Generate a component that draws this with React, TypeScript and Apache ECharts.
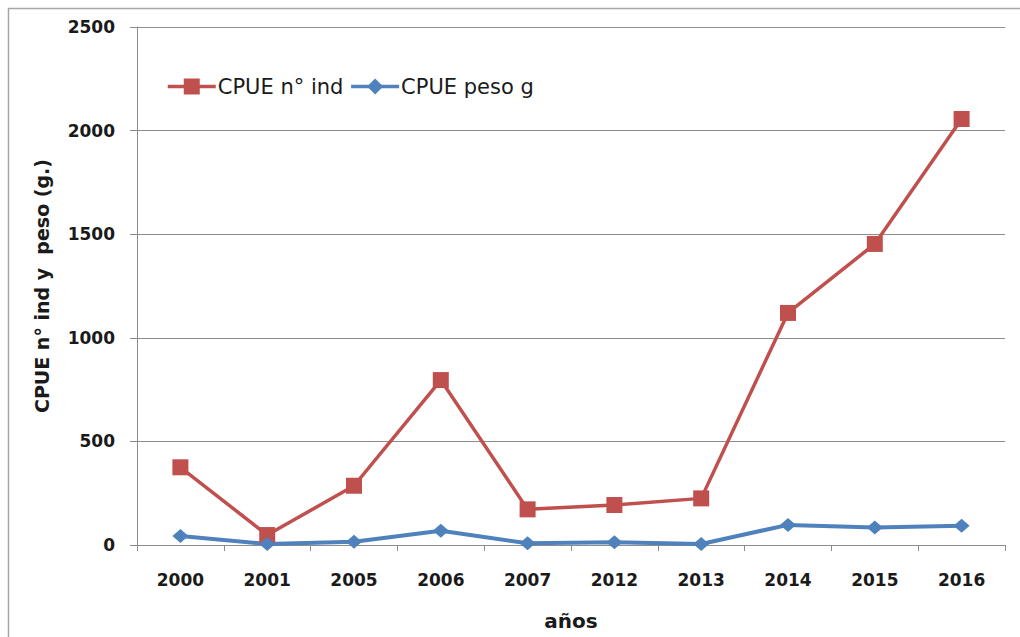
import React, { useEffect, useRef } from "react";
import * as echarts from "echarts";

const years = ["2000", "2001", "2005", "2006", "2007", "2012", "2013", "2014", "2015", "2016"];
const cpueInd = [375, 48, 286, 796, 172, 193, 225, 1120, 1453, 2056];
const cpuePeso = [43, 5, 16, 69, 8, 13, 5, 97, 85, 93];
const yTicks = { min: 0, max: 2500, interval: 500 };

const FONT = "DejaVu Sans";

export default function App() {
  const ref = useRef<HTMLDivElement>(null);
  useEffect(() => {
    if (!ref.current) return;
    const chart = echarts.init(ref.current, null, { renderer: "svg" });
    chart.setOption({
      animation: false,
      backgroundColor: "#ffffff",
      textStyle: { fontFamily: FONT },
      graphic: [
        {
          type: "rect",
          shape: { x: 8.5, y: 8.5, width: 1030, height: 660 },
          style: { fill: "none", stroke: "#a6a6a6", lineWidth: 1.5 },
          silent: true,
          z: -1,
        },
      ],
      legend: {
        left: 161,
        top: 71,
        itemWidth: 48,
        itemHeight: 20,
        itemGap: 6,
        lineStyle: { width: 3.5 },
        textStyle: { fontFamily: FONT, fontSize: 21, color: "#1a1a1a", padding: [0, 0, 0, -3] },
        data: ["CPUE n° ind", "CPUE peso g"],
      },
      grid: { left: 137, right: 15, top: 27, bottom: 92, containLabel: false },
      xAxis: {
        type: "category",
        data: years,
        boundaryGap: true,
        name: "años",
        nameLocation: "middle",
        nameGap: 66,
        nameTextStyle: { fontFamily: FONT, fontSize: 20, fontWeight: "bold", color: "#1a1a1a" },
        axisLine: { lineStyle: { color: "#8c8c8c", width: 1 } },
        axisTick: { show: true, length: 6, lineStyle: { color: "#8c8c8c" } },
        axisLabel: { fontFamily: FONT, fontSize: 17, fontWeight: "bold", color: "#1a1a1a", margin: 26 },
        splitLine: { show: false },
      },
      yAxis: {
        type: "value",
        min: yTicks.min,
        max: yTicks.max,
        interval: yTicks.interval,
        name: "CPUE n° ind y  peso (g.)",
        nameLocation: "middle",
        nameGap: 86,
        nameTextStyle: { fontFamily: FONT, fontSize: 19, fontWeight: "bold", color: "#1a1a1a" },
        axisLine: { show: true, lineStyle: { color: "#8c8c8c", width: 1 } },
        axisTick: { show: true, length: 7, lineStyle: { color: "#8c8c8c" } },
        axisLabel: {
          fontFamily: FONT,
          fontSize: 17,
          fontWeight: "bold",
          color: "#1a1a1a",
          margin: 22,
          formatter: (v: number) => String(v),
        },
        splitLine: { show: true, lineStyle: { color: "#8c8c8c", width: 1 } },
      },
      series: [
        {
          name: "CPUE n° ind",
          type: "line",
          data: cpueInd,
          symbol: "rect",
          symbolSize: 16,
          itemStyle: { color: "#C0504D" },
          lineStyle: { color: "#C0504D", width: 3.5 },
        },
        {
          name: "CPUE peso g",
          type: "line",
          data: cpuePeso,
          symbol: "diamond",
          symbolSize: [16, 14],
          itemStyle: { color: "#4F81BD" },
          lineStyle: { color: "#4F81BD", width: 4 },
        },
      ],
    });
    return () => chart.dispose();
  }, []);
  return (
    <div
      ref={ref}
      style={{ position: "absolute", left: 0, top: 0, width: 1020, height: 637 }}
    />
  );
}
